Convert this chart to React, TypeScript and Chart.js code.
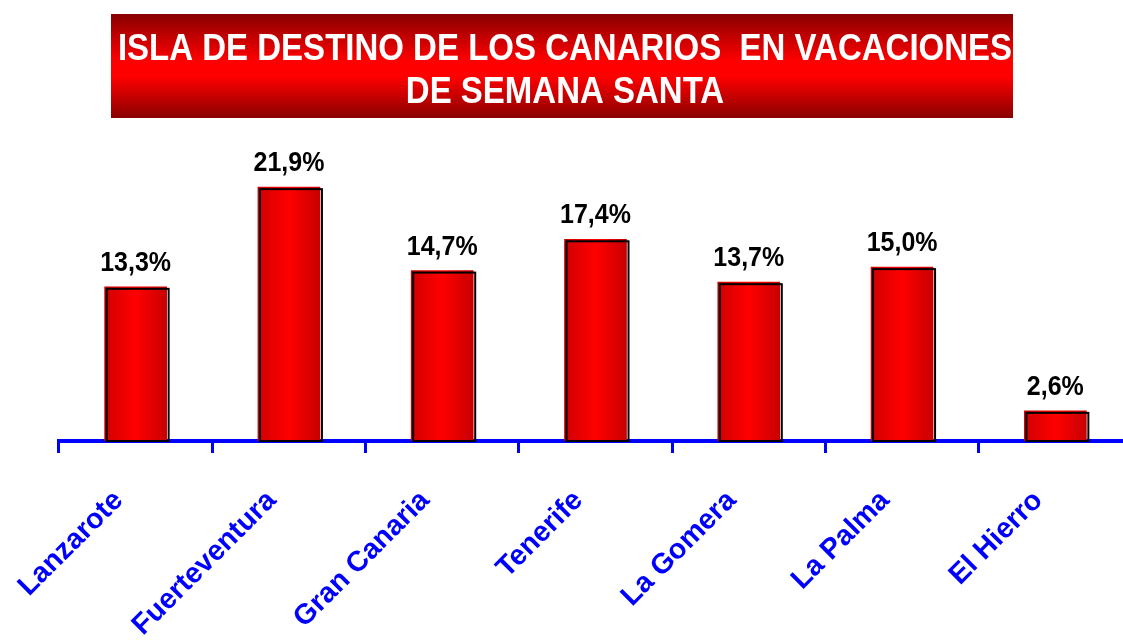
import React, { useEffect, useRef } from "react";
import { Chart, registerables } from "chart.js";

Chart.register(...registerables);

const islands = ["Lanzarote", "Fuerteventura", "Gran Canaria", "Tenerife", "La Gomera", "La Palma", "El Hierro"];
const shares = [13.3, 21.9, 14.7, 17.4, 13.7, 15.0, 2.6];
const titleLines = ["ISLA DE DESTINO DE LOS CANARIOS  EN VACACIONES", "DE SEMANA SANTA"];
const yMin = 0;
const yMax = 27;

const FONT = "'Liberation Sans', Arial, sans-serif";
const fmt = (v: number) => v.toFixed(1).replace(".", ",") + "%";

const titlePlugin = {
  id: "titleBox",
  beforeDraw(chart: any) {
    const ctx = chart.ctx as CanvasRenderingContext2D;
    const bx = 111, by = 14, bw = 902, bh = 104;
    ctx.save();
    const g = ctx.createLinearGradient(0, by, 0, by + bh);
    g.addColorStop(0, "#880000");
    g.addColorStop(0.45, "#FF0000");
    g.addColorStop(0.6, "#FF0000");
    g.addColorStop(1, "#880000");
    ctx.fillStyle = g;
    ctx.fillRect(bx, by, bw, bh);
    ctx.fillStyle = "#FFFFFF";
    ctx.font = `bold 33px ${FONT}`;
    ctx.textAlign = "center";
    ctx.textBaseline = "alphabetic";
    const baselines = [60, 103.3];
    titleLines.forEach((line, i) => {
      ctx.save();
      ctx.translate(565, baselines[i]);
      ctx.scale(1, 1.1);
      ctx.fillText(line, 0, 0);
      ctx.restore();
    });
    ctx.restore();
  },
};

const barDecor = {
  id: "barDecor",
  afterDatasetsDraw(chart: any) {
    const ctx = chart.ctx as CanvasRenderingContext2D;
    const meta = chart.getDatasetMeta(0);
    ctx.save();
    meta.data.forEach((el: any, i: number) => {
      const { x, y, base, width } = el.getProps(["x", "y", "base", "width"], true);
      const left = x - width / 2;
      ctx.strokeStyle = "#000000";
      ctx.lineWidth = 2;
      ctx.strokeRect(left + 2, y + 2, width, base - y - 2);
      ctx.save();
      ctx.fillStyle = "#000000";
      ctx.font = `bold 25px ${FONT}`;
      ctx.textAlign = "center";
      ctx.textBaseline = "alphabetic";
      ctx.translate(x, y - 16);
      ctx.scale(1, 1.1);
      ctx.fillText(fmt(shares[i]), 0, 0);
      ctx.restore();
    });
    ctx.restore();
  },
};

export default function App() {
  const ref = useRef<HTMLCanvasElement | null>(null);

  useEffect(() => {
    if (!ref.current) return;
    const chart = new Chart(ref.current, {
      type: "bar",
      data: {
        labels: islands,
        datasets: [
          {
            data: shares,
            borderWidth: 0,
            backgroundColor: (c: any) => {
              const ch = c.chart;
              const xs = ch.scales && ch.scales.x;
              if (!xs || c.dataIndex === undefined) return "#FF0000";
              const cx = xs.getPixelForValue(c.dataIndex);
              if (!Number.isFinite(cx)) return "#FF0000";
              const g = ch.ctx.createLinearGradient(cx - 31, 0, cx + 31, 0);
              g.addColorStop(0, "#D00000");
              g.addColorStop(0.5, "#FF0000");
              g.addColorStop(1, "#C80000");
              return g;
            },
            barThickness: 62,
          },
        ],
      },
      options: {
        responsive: false,
        animation: false,
        devicePixelRatio: 1,
        layout: { padding: { top: 128, left: 59, right: 3, bottom: 0 } },
        plugins: {
          legend: { display: false },
          title: { display: false },
          tooltip: { enabled: false },
        },
        scales: {
          x: {
            z: 1,
            offset: true,
            grid: {
              display: true,
              drawOnChartArea: false,
              color: "#0000FF",
              lineWidth: 3,
              tickLength: 12,
              offset: true,
            },
            border: { display: true, color: "#0000FF", width: 4 },
            ticks: {
              color: "#0000FF",
              font: { family: FONT, size: 28.5, weight: "bold" },
              minRotation: 45,
              maxRotation: 45,
              padding: 31,
              labelOffset: -17,
              autoSkip: false,
            },
            afterFit: (s: any) => {
              s.height = 201;
            },
          },
          y: {
            display: false,
            min: yMin,
            max: yMax,
          },
        },
      },
      plugins: [titlePlugin, barDecor],
    } as any);
    return () => chart.destroy();
  }, []);

  return (
    <div style={{ position: "absolute", left: 0, top: 0, width: 1123, height: 642, overflow: "hidden", background: "#FFFFFF" }}>
      <canvas ref={ref} width={1135} height={642} style={{ display: "block" }} />
    </div>
  );
}
